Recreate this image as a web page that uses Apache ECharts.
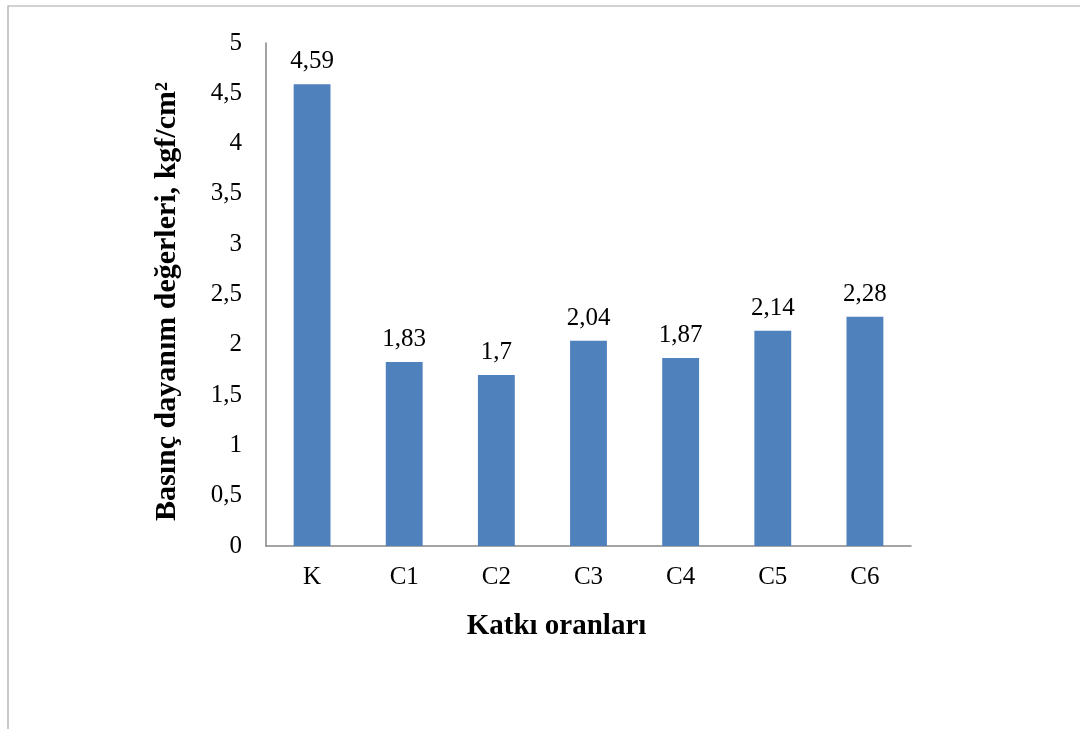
<!DOCTYPE html>
<html>
<head>
<meta charset="utf-8">
<script src="https://cdn.jsdelivr.net/npm/echarts@6/dist/echarts.min.js"></script>
<style>
  html, body { margin: 0; padding: 0; background: #ffffff; }
  #chart { width: 1080px; height: 729px; }
</style>
</head>
<body>
<div id="chart"></div>
<script>
// Compressive strength by additive ratio
const categories = ['K', 'C1', 'C2', 'C3', 'C4', 'C5', 'C6'];
const strengthValues = [4.59, 1.83, 1.7, 2.04, 1.87, 2.14, 2.28];
const yAxisTitle = 'Basınç dayanım değerleri, kgf/cm²';
const xAxisTitle = 'Katkı oranları';

const serif = "'Liberation Serif', 'Times New Roman', serif";
const comma = v => String(v).replace('.', ',');

const chart = echarts.init(document.getElementById('chart'), null, { renderer: 'canvas' });

chart.setOption({
  backgroundColor: '#ffffff',
  animation: false,
  graphic: [
    {
      type: 'polyline',
      shape: { points: [[8, 729], [8, 6], [1080, 6]] },
      style: { stroke: '#a6a6a6', lineWidth: 1.2, fill: null },
      silent: true
    }
  ],
  grid: { left: 266, right: 169, top: 43, bottom: 183, containLabel: false },
  xAxis: {
    type: 'category',
    data: categories,
    name: xAxisTitle,
    nameLocation: 'middle',
    nameGap: 66,
    nameTextStyle: {
      fontFamily: serif, fontSize: 29, fontWeight: 'bold', color: '#000',
      padding: [0, 64, 0, 0]
    },
    axisLine: { lineStyle: { color: '#868686', width: 1.5 } },
    axisTick: { show: false },
    axisLabel: { fontFamily: serif, fontSize: 25, color: '#000', margin: 19 }
  },
  yAxis: {
    type: 'value',
    min: 0,
    max: 5,
    interval: 0.5,
    name: yAxisTitle,
    nameLocation: 'middle',
    nameRotate: 90,
    nameGap: 84,
    nameTextStyle: {
      fontFamily: serif, fontSize: 30, fontWeight: 'bold', color: '#000',
      padding: [0, 14, 0, 0]
    },
    axisLine: { show: true, lineStyle: { color: '#868686', width: 1.5 } },
    axisTick: { show: false },
    splitLine: { show: false },
    axisLabel: { fontFamily: serif, fontSize: 25, color: '#000', margin: 24, formatter: comma }
  },
  series: [
    {
      type: 'bar',
      data: strengthValues,
      barCategoryGap: '60%',
      itemStyle: { color: '#4f81bd' },
      label: {
        show: true,
        position: 'top',
        distance: 10,
        fontFamily: serif,
        fontSize: 25,
        color: '#000',
        formatter: p => comma(p.value)
      }
    }
  ]
});
</script>
</body>
</html>
